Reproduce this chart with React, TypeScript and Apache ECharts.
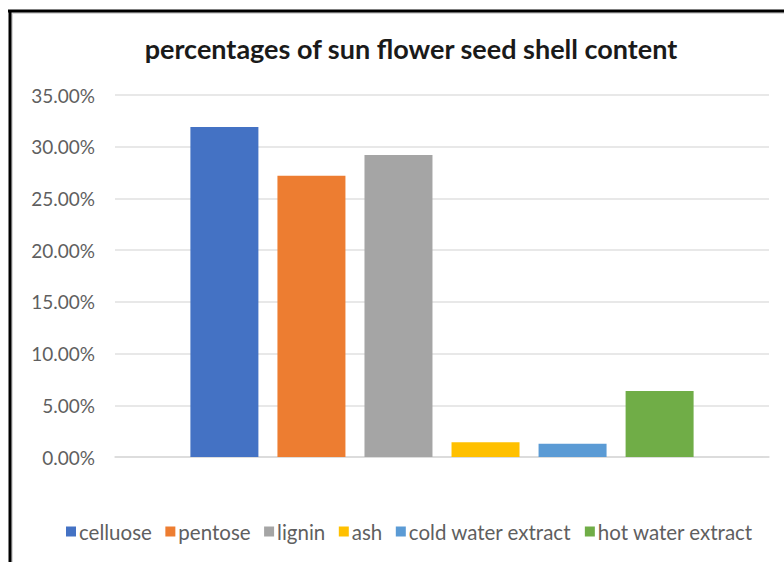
import React, { useEffect, useRef } from "react";
import * as echarts from "echarts";

const titleText = "percentages of sun flower seed shell content";
const seriesNames = ["celluose", "pentose", "lignin", "ash", "cold water extract", "hot water extract"];
const seriesValues = [0.319, 0.272, 0.292, 0.0142, 0.0129, 0.0638];
const seriesColors = ["#4472C4", "#ED7D31", "#A5A5A5", "#FFC000", "#5B9BD5", "#70AD47"];
const categories = [""];

export default function App() {
  const ref = useRef<HTMLDivElement>(null);
  useEffect(() => {
    if (!ref.current) return;
    const chart = echarts.init(ref.current, null, { renderer: "svg" });
    chart.setOption({
      animation: false,
      backgroundColor: "#ffffff",
      title: {
        text: titleText,
        left: 406,
        textAlign: "center",
        top: 30,
        textStyle: { fontFamily: "Lato", fontWeight: "bold", fontSize: 27, color: "#1a1a1a" },
      },
      legend: {
        data: seriesNames,
        left: 61,
        top: 516,
        icon: "rect",
        itemWidth: 10,
        itemHeight: 10,
        itemGap: 13.5,
        textStyle: { fontFamily: "Lato", fontSize: 20.5, color: "#5f5f5f", padding: [0, 0, 0, -2] },
      },
      grid: { left: 115, right: 15, top: 95, bottom: 105, containLabel: false },
      xAxis: {
        type: "category",
        data: categories,
        axisLine: { lineStyle: { color: "#d9d9d9", width: 1.5 } },
        axisTick: { show: false },
        axisLabel: { show: false },
      },
      yAxis: {
        type: "value",
        min: 0,
        max: 0.35,
        interval: 0.05,
        axisLine: { show: false },
        axisTick: { show: false },
        splitLine: { lineStyle: { color: "#e0e0e0", width: 1.5 } },
        axisLabel: {
          margin: 20,
          fontFamily: "Lato",
          fontSize: 19,
          color: "#5f5f5f",
          formatter: (v: number) => (v * 100).toFixed(2) + "%",
        },
      },
      series: seriesNames.map((name, i) => ({
        name,
        type: "bar",
        data: [seriesValues[i]],
        barWidth: 68,
        barGap: "28%",
        itemStyle: { color: seriesColors[i] },
      })),
      graphic: [
        { type: "line", shape: { x1: 9, y1: 13, x2: 784, y2: 13 }, style: { stroke: "#d8d8d8", lineWidth: 2 } },
        { type: "line", shape: { x1: 12, y1: 11, x2: 12, y2: 562 }, style: { stroke: "#d8d8d8", lineWidth: 2 } },
        { type: "line", shape: { x1: 8, y1: 11, x2: 784, y2: 11 }, style: { stroke: "#000000", lineWidth: 3 } },
        { type: "line", shape: { x1: 10, y1: 10, x2: 10, y2: 562 }, style: { stroke: "#000000", lineWidth: 3 } },
      ],
    });
    return () => chart.dispose();
  }, []);
  return (
    <div style={{ position: "fixed", left: 0, top: 0, width: 784, height: 562, background: "#fff" }}>
      <div ref={ref} style={{ width: 784, height: 562 }} />
    </div>
  );
}
